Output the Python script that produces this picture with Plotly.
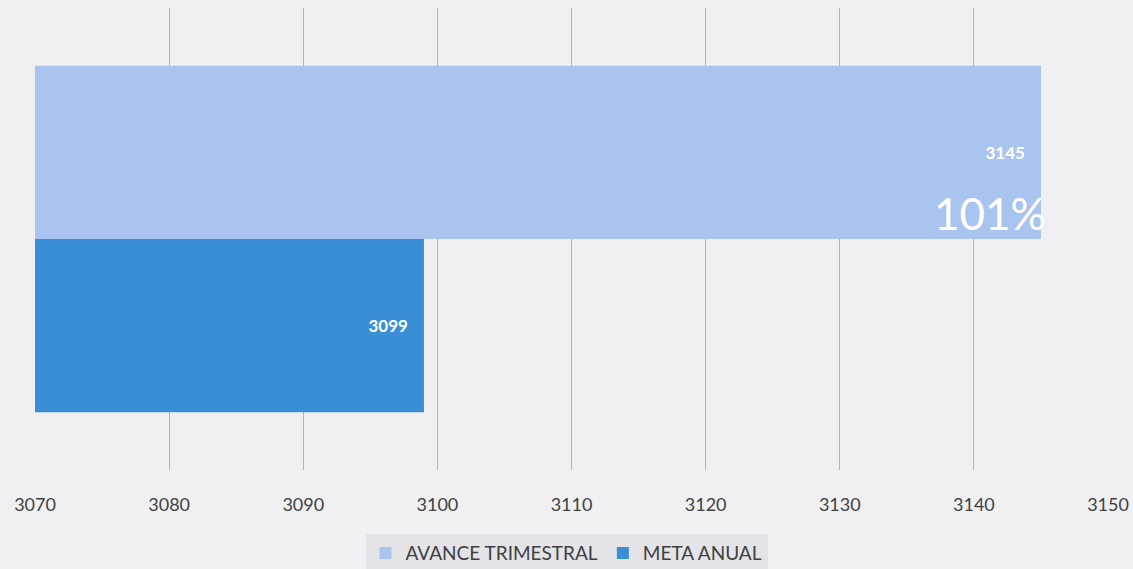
import plotly.graph_objects as go

category = ["Total"]
meta_anual = [3099]
avance_trimestral = [3145]
porcentaje = "101%"
x_ticks = [3070, 3080, 3090, 3100, 3110, 3120, 3130, 3140, 3150]

FONT = "Lato, 'Open Sans', sans-serif"
BG = "#f0f0f3"
PAD = "\u00a0" * 3

fig = go.Figure()
fig.add_trace(go.Bar(
    y=category, x=meta_anual, orientation="h", name="META ANUAL",
    marker=dict(color="#3a8ed6", line=dict(width=0)),
    text=[f"<b>{v}</b>{PAD}" for v in meta_anual], textposition="inside",
    insidetextanchor="end", textfont=dict(color="white", size=17, family=FONT),
    legendrank=2,
))
fig.add_trace(go.Bar(
    y=category, x=avance_trimestral, orientation="h", name="AVANCE TRIMESTRAL",
    marker=dict(color="#a9c4ee", line=dict(width=0)),
    text=[f"<b>{v}</b>{PAD}" for v in avance_trimestral], textposition="inside",
    insidetextanchor="end", textfont=dict(color="white", size=17, family=FONT),
    legendrank=1,
))

fig.add_annotation(
    x=avance_trimestral[0], y=0.556, xref="x", yref="paper",
    text=porcentaje, showarrow=False, xanchor="right", yanchor="middle",
    font=dict(color="white", size=44, family=FONT), xshift=7,
)

fig.update_layout(
    width=1133, height=569,
    barmode="group", bargap=0.25, bargroupgap=0,
    paper_bgcolor=BG, plot_bgcolor=BG,
    margin=dict(l=35, r=25, t=8, b=99),
    font=dict(family=FONT, color="#404040", size=17),
    showlegend=True,
    legend=dict(orientation="h", x=0.5, xanchor="center", xref="container",
                y=0.028, yanchor="middle", yref="container",
                bgcolor="#e4e4e8", font=dict(size=19, color="#404040"),
                traceorder="normal"),
    xaxis=dict(range=[3070, 3150], tickvals=x_ticks, showgrid=True,
               gridcolor="#b4b4b8", gridwidth=1, zeroline=False, automargin=False,
               ticks="", ticklabelstandoff=22, tickfont=dict(size=18, color="#404040")),
    yaxis=dict(showticklabels=False, showgrid=False, zeroline=False, showline=False,
               automargin=False),
)

fig.write_html("out.html", config={"displayModeBar": False},
               post_script=f"document.body.style.margin='0';document.body.style.background='{BG}';")
